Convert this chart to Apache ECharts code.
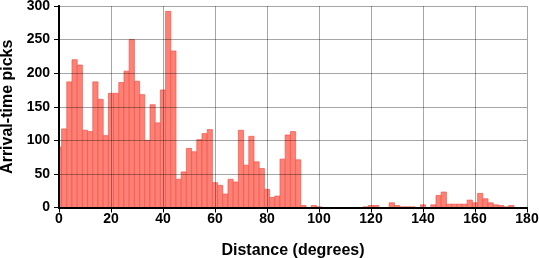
<!DOCTYPE html>
<html>
<head>
<meta charset="utf-8">
<script src="https://cdn.jsdelivr.net/npm/echarts@6/dist/echarts.min.js"></script>
<style>html,body{margin:0;padding:0;background:#fff}#c{width:539px;height:258px}</style>
</head>
<body>
<div id="c"></div>
<script>
// Bin centres (degrees), each bin 2 degrees wide
const binCenters = [0,2,4,6,8,10,12,14,16,18,20,22,24,26,28,30,32,34,36,38,40,42,44,46,48,50,52,54,56,58,60,62,64,66,68,70,72,74,76,78,80,82,84,86,88,90,92,94,96,98,100,102,104,106,108,110,112,114,116,118,120,122,124,126,128,130,132,134,136,138,140,142,144,146,148,150,152,154,156,158,160,162,164,166,168,170,172,174,176,178,180];
// Arrival-time picks per bin
const pickCounts = [90,117,187,220,212,115,113,187,161,107,170,170,186,203,250,188,168,100,153,126,175,292,233,42,53,88,83,101,110,116,37,33,20,42,38,115,63,106,68,58,27,15,17,72,108,113,71,3,0,3,1,0,0,0,0,0,0,0,0,1,3,3,0,0,7,3,1,1,1,0,4,0,4,18,23,5,5,5,5,11,7,21,13,7,4,3,1,3,0,0,0];
const binWidth = 2;
const xTicks = [0,20,40,60,80,100,120,140,160,180];
const yTicks = [0,50,100,150,200,250,300];

const data = binCenters.map((c, i) => [c, pickCounts[i]]);
const chart = echarts.init(document.getElementById('c'), null, {renderer: 'canvas'});
const FONT = 'Liberation Sans';
const gridColor = 'rgba(0,0,0,0.35)';
chart.setOption({
  animation: false,
  grid: {left: 59, right: 12, top: 6, bottom: 50.5, containLabel: false, outerBoundsMode: 'none'},
  xAxis: [{
    type: 'value', min: xTicks[0], max: xTicks[xTicks.length-1], interval: 20, position: 'bottom',
    name: 'Distance (degrees)', nameLocation: 'middle', nameGap: 35,
    nameTextStyle: {fontFamily: FONT, fontWeight: 'bold', fontSize: 16, color: '#000'},
    axisLine: {lineStyle: {color: '#000', width: 2}},
    axisTick: {inside: false, length: 5, lineStyle: {color: '#000', width: 1}},
    axisLabel: {fontFamily: FONT, fontWeight: 'bold', fontSize: 14, color: '#000', margin: 5},
    splitLine: {show: true, lineStyle: {color: gridColor, width: 1}}
  }, {
    type: 'value', min: xTicks[0], max: xTicks[xTicks.length-1], interval: 20, position: 'top',
    axisLine: {lineStyle: {color: '#000', width: 2}},
    axisTick: {inside: true, length: 4, lineStyle: {color: '#000', width: 1}},
    axisLabel: {show: false}, splitLine: {show: false}
  }],
  yAxis: [{
    type: 'value', min: yTicks[0], max: yTicks[yTicks.length-1], interval: 50, position: 'left',
    name: 'Arrival-time picks', nameLocation: 'middle', nameGap: 38,
    nameTextStyle: {fontFamily: FONT, fontWeight: 'bold', fontSize: 16, color: '#000'},
    axisLine: {show: true, lineStyle: {color: '#000', width: 2}},
    axisTick: {show: true, inside: false, length: 5, lineStyle: {color: '#000', width: 1}},
    axisLabel: {fontFamily: FONT, fontWeight: 'bold', fontSize: 14, color: '#000', margin: 9},
    splitLine: {show: true, lineStyle: {color: gridColor, width: 1}}
  }, {
    type: 'value', min: yTicks[0], max: yTicks[yTicks.length-1], interval: 50, position: 'right',
    axisLine: {show: true, lineStyle: {color: '#000', width: 2}},
    axisTick: {show: true, inside: true, length: 4, lineStyle: {color: '#000', width: 1}},
    axisLabel: {show: false}, splitLine: {show: false}
  }],
  series: [{
    type: 'custom',
    z: -1,
    xAxisIndex: 0, yAxisIndex: 0,
    data: data,
    renderItem: function (params, api) {
      const c = api.value(0), v = api.value(1);
      if (!v) return null;
      const p0 = api.coord([c - binWidth/2, v]);
      const p1 = api.coord([c + binWidth/2, 0]);
      const cs = params.coordSys;
      const rect = echarts.graphic.clipRectByRect(
        {x: p0[0], y: p0[1], width: p1[0] - p0[0], height: p1[1] - p0[1]},
        {x: cs.x, y: cs.y, width: cs.width, height: cs.height});
      if (!rect) return null;
      return {type: 'rect', shape: rect, style: {fill: '#FF8176', stroke: '#F0554B', lineWidth: 0.7}};
    }
  }]
});
</script>
</body>
</html>
